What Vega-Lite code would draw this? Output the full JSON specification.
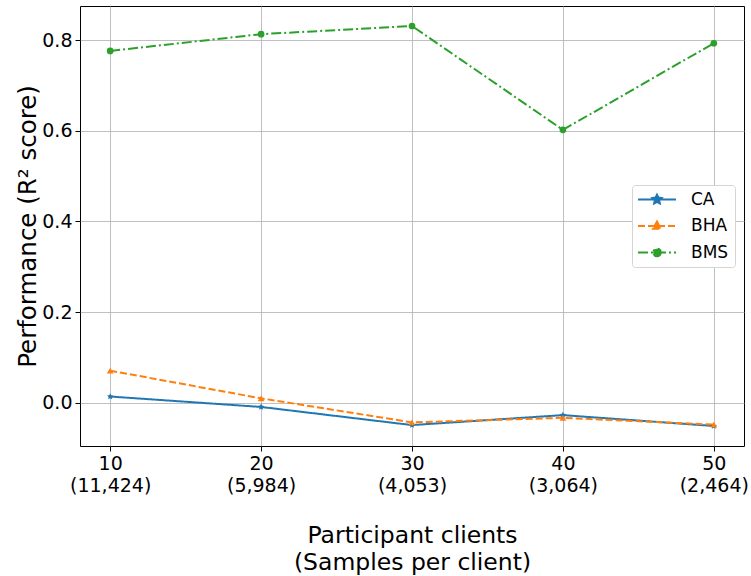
{
  "$schema": "https://vega.github.io/schema/vega-lite/v6.json",
  "autosize": "none",
  "width": 664,
  "height": 440,
  "padding": {"left": 80, "top": 6, "right": 7, "bottom": 130},
  "background": "white",
  "config": {
    "font": "DejaVu Sans",
    "view": {"stroke": "black", "strokeWidth": 1},
    "axis": {
      "labelFont": "DejaVu Sans",
      "titleFont": "DejaVu Sans",
      "labelFontSize": 19,
      "titleFontWeight": "normal",
      "labelColor": "black",
      "titleColor": "black",
      "gridColor": "#b0b0b0",
      "gridWidth": 1,
      "gridOpacity": 0.8,
      "tickColor": "black",
      "tickSize": 5,
      "domain": false
    }
  },
  "data": {
    "values": [
      {"clients": 10, "series": "CA", "r2": 0.014},
      {"clients": 20, "series": "CA", "r2": -0.009},
      {"clients": 30, "series": "CA", "r2": -0.049},
      {"clients": 40, "series": "CA", "r2": -0.027},
      {"clients": 50, "series": "CA", "r2": -0.051},
      {"clients": 10, "series": "BHA", "r2": 0.071},
      {"clients": 20, "series": "BHA", "r2": 0.010},
      {"clients": 30, "series": "BHA", "r2": -0.043},
      {"clients": 40, "series": "BHA", "r2": -0.033},
      {"clients": 50, "series": "BHA", "r2": -0.048},
      {"clients": 10, "series": "BMS", "r2": 0.776},
      {"clients": 20, "series": "BMS", "r2": 0.813},
      {"clients": 30, "series": "BMS", "r2": 0.831},
      {"clients": 40, "series": "BMS", "r2": 0.602},
      {"clients": 50, "series": "BMS", "r2": 0.793}
    ]
  },
  "encoding": {
    "x": {
      "field": "clients",
      "type": "quantitative",
      "scale": {"domain": [8, 52], "nice": false, "zero": false},
      "axis": {
        "values": [10, 20, 30, 40, 50],
        "labelExpr": "datum.value == 10 ? ['10', '(11,424)'] : datum.value == 20 ? ['20', '(5,984)'] : datum.value == 30 ? ['30', '(4,053)'] : datum.value == 40 ? ['40', '(3,064)'] : ['50', '(2,464)']",
        "labelLineHeight": 22,
        "labelPadding": 3,
        "labelFlush": false,
        "title": ["Participant clients", "(Samples per client)"],
        "titleFontSize": 23.5,
        "titleLineHeight": 27.5,
        "titlePadding": 28
      }
    },
    "y": {
      "field": "r2",
      "type": "quantitative",
      "scale": {"domain": [-0.0951, 0.8751], "nice": false, "zero": false},
      "axis": {
        "values": [0, 0.2, 0.4, 0.6, 0.8],
        "format": ".1f",
        "labelPadding": 3,
        "title": "Performance (R² score)",
        "titleFontSize": 24.5,
        "titlePadding": 1
      }
    },
    "color": {
      "field": "series",
      "type": "nominal",
      "scale": {"domain": ["CA", "BHA", "BMS"], "range": ["#1f77b4", "#ff7f0e", "#2ca02c"]},
      "legend": {
        "title": null,
        "orient": "none",
        "legendX": 552,
        "legendY": 179,
        "padding": 6,
        "strokeColor": "#d5d5d5",
        "fillColor": "white",
        "cornerRadius": 3,
        "labelFontSize": 17,
        "labelColor": "black",
        "symbolType": "M-1,0H1",
        "symbolSize": 100,
        "symbolStrokeWidth": 2,
        "rowPadding": 8.5,
        "labelOffset": 36,
        "encode": {
          "symbols": {
            "update": {
              "shape": {"signal": "datum.value == 'CA' ? 'M-1.7,0H5.9M2.1,-0.96L2.378,-0.384L3.012,-0.298L2.551,0.144L2.666,0.778L2.1,0.48L1.534,0.778L1.649,0.144L1.188,-0.298L1.822,-0.384Z' : datum.value == 'BHA' ? 'M-1.7,0H5.9M2.1,-0.9L2.9,0.55L1.3,0.55Z' : 'M-1.7,0H5.9M2.86,0A0.76,0.76 0 1 1 1.34,0A0.76,0.76 0 1 1 2.86,0Z'"},
              "strokeDash": {"signal": "datum.value == 'CA' ? [1, 0] : datum.value == 'BHA' ? [7, 3] : [10, 3, 2, 3]"},
              "fill": {"signal": "datum.value == 'CA' ? '#1f77b4' : datum.value == 'BHA' ? '#ff7f0e' : '#2ca02c'"},
              "stroke": {"signal": "datum.value == 'CA' ? '#1f77b4' : datum.value == 'BHA' ? '#ff7f0e' : '#2ca02c'"},
              "size": {"value": 100},
              "strokeWidth": {"value": 2},
              "opacity": {"value": 1}
            }
          }
        }
      }
    }
  },
  "layer": [
    {
      "mark": {"type": "line", "strokeWidth": 2},
      "encoding": {
        "strokeDash": {
          "field": "series",
          "type": "nominal",
          "scale": {"domain": ["CA", "BHA", "BMS"], "range": [[1, 0], [7, 3], [10, 3, 2, 3]]},
          "legend": null
        }
      }
    },
    {
      "transform": [{"filter": "datum.series == 'CA'"}],
      "mark": {"type": "point", "filled": true, "opacity": 1, "size": 45, "shape": "M0,-1L0.29,-0.4L0.95,-0.31L0.47,0.15L0.59,0.81L0,0.5L-0.59,0.81L-0.47,0.15L-0.95,-0.31L-0.29,-0.4Z"}
    },
    {
      "transform": [{"filter": "datum.series == 'BHA'"}],
      "mark": {"type": "point", "filled": true, "opacity": 1, "size": 45, "shape": "triangle-up"}
    },
    {
      "transform": [{"filter": "datum.series == 'BMS'"}],
      "mark": {"type": "point", "filled": true, "opacity": 1, "size": 45, "shape": "circle"}
    }
  ]
}
